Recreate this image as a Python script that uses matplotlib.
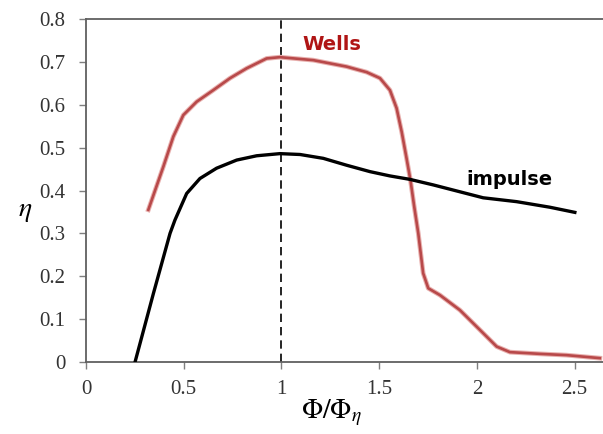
import matplotlib.pyplot as plt

plt.rcParams['mathtext.fontset'] = 'stix'

# values
impulse_x = [0.251, 0.345, 0.430, 0.455, 0.515, 0.583, 0.668, 0.771, 0.873,
             0.992, 1.095, 1.214, 1.333, 1.453, 1.555, 1.657, 1.777, 1.913,
             2.032, 2.203, 2.373, 2.501]
impulse_y = [0.0, 0.160, 0.300, 0.331, 0.393, 0.428, 0.452, 0.471, 0.481,
             0.486, 0.484, 0.475, 0.459, 0.444, 0.434, 0.426, 0.413, 0.397,
             0.383, 0.374, 0.361, 0.349]

wells_x = [0.319, 0.396, 0.447, 0.498, 0.566, 0.651, 0.737, 0.822, 0.924,
           0.992, 1.163, 1.333, 1.436, 1.504, 1.555, 1.589, 1.615, 1.640,
           1.661, 1.678, 1.700, 1.725, 1.751, 1.811, 1.913, 2.015, 2.101,
           2.169, 2.322, 2.459, 2.629]
wells_y = [0.355, 0.456, 0.526, 0.576, 0.607, 0.634, 0.662, 0.685, 0.708,
           0.711, 0.704, 0.689, 0.676, 0.662, 0.634, 0.592, 0.537, 0.475,
           0.421, 0.366, 0.300, 0.207, 0.172, 0.156, 0.121, 0.075, 0.036,
           0.023, 0.019, 0.016, 0.009]

xticks = [0, 0.5, 1, 1.5, 2, 2.5]
xtick_labels = ['0', '0.5', '1', '1.5', '2', '2.5']
yticks = [0, 0.1, 0.2, 0.3, 0.4, 0.5, 0.6, 0.7, 0.8]
ytick_labels = ['0', '0.1', '0.2', '0.3', '0.4', '0.5', '0.6', '0.7', '0.8']

fig = plt.figure(figsize=(6.03, 4.34), dpi=100)
ax = fig.add_axes([0.1426, 0.1659, 0.8574, 0.7903])

ax.axvline(1.0, color='black', linestyle=(0, (5, 3)), linewidth=1.2, zorder=1)
ax.plot(wells_x, wells_y, color='#e8b0ae', linewidth=3.4, solid_joinstyle='round', zorder=2)
ax.plot(wells_x, wells_y, color='#b8494a', linewidth=1.9, solid_joinstyle='round', zorder=3)
ax.plot(impulse_x, impulse_y, color='black', linewidth=2.4, solid_joinstyle='round', zorder=4)

ax.text(1.258, 0.741, 'Wells', color='#b01515', fontsize=14, fontweight='bold',
        family='DejaVu Sans', ha='center', va='center')
ax.text(2.164, 0.426, 'impulse', color='black', fontsize=14, fontweight='bold',
        family='DejaVu Sans', ha='center', va='center')

ax.set_xlim(0, 2.645)
ax.set_ylim(0, 0.8)
ax.set_xticks(xticks)
ax.set_xticklabels(xtick_labels)
ax.set_yticks(yticks)
ax.set_yticklabels(ytick_labels)

for lab in ax.get_xticklabels() + ax.get_yticklabels():
    lab.set_family('Liberation Serif')
    lab.set_fontsize(15)
    lab.set_color('#333333')

ax.tick_params(axis='both', direction='out', length=5, width=1, color='#7f7f7f')
ax.tick_params(axis='x', pad=8)
ax.tick_params(axis='y', pad=10)
ax.spines['right'].set_visible(False)
for s in ['left', 'top', 'bottom']:
    ax.spines[s].set_color('#606060')
    ax.spines[s].set_linewidth(1.3)

ax.set_xlabel(r'$\Phi/\Phi_\eta$', fontsize=20)
ax.xaxis.set_label_coords((332 - 86) / 517, -0.105)
ax.set_ylabel(r'$\eta$', fontsize=20, rotation=0, va='center')
ax.yaxis.set_label_coords(-0.118, (362 - 210) / 343)

fig.savefig('out.png', dpi=100)
